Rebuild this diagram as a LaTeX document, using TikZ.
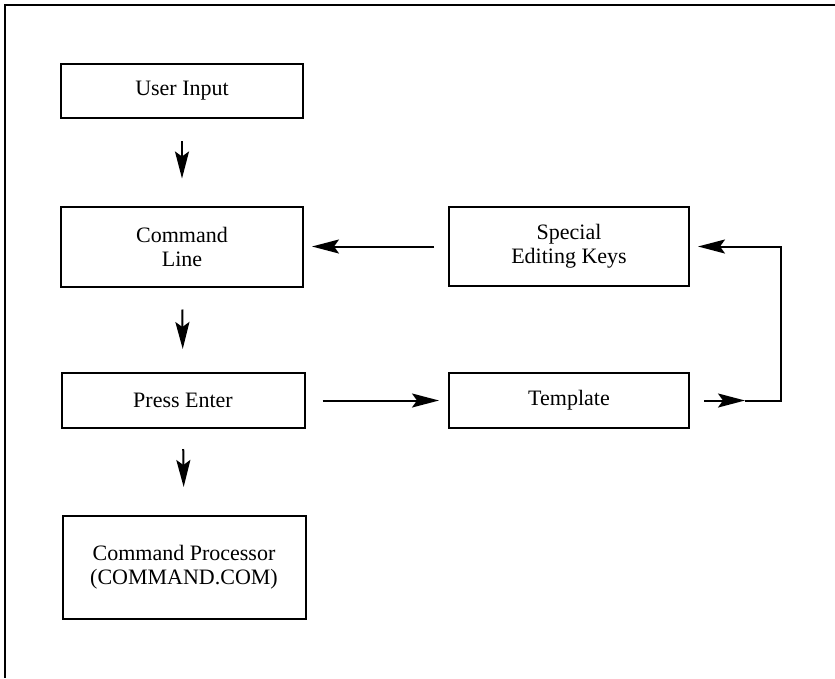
\documentclass[tikz,border=0pt]{standalone}
\usepackage{fontspec}
\setmainfont{Liberation Serif}
\usetikzlibrary{arrows.meta}

\begin{document}
\begin{tikzpicture}[x=1pt,y=-1pt,line width=2pt,
   box/.style={draw,align=center,font=\fontsize{22}{24}\selectfont,inner sep=0pt},
   arr/.style={-{Stealth[length=27pt,width=14pt,inset=5pt]}}]
   \useasboundingbox (0,0) rectangle (835,678);
   \draw (835,5) -- (5,5) -- (5,678);
   % left column
   \node[box,minimum width=242pt,minimum height=54pt] (ui) at (182,91) {User Input};
   \node[box,minimum width=242pt,minimum height=80pt] (cl) at (182,246.5) {Command\\Line};
   \node[box,minimum width=243pt,minimum height=55pt] (pe) at (183,400.5) {Press Enter};
   \node[box,minimum width=243pt,minimum height=103pt] (cp) at (184,567.5) {Command Processor\\(COMMAND.COM)};
   % right column
   \node[box,minimum width=240pt,minimum height=79pt] (sek) at (569,246.5) {Special\\Editing Keys};
   \node[box,minimum width=240pt,minimum height=55pt] (tp) at (569,400.5) {Template};
   \coordinate (mid) at (745,400.5);
   \coordinate (turn) at (781,400.5);
   % arrows
   \draw[arr,shorten <=22pt,shorten >=27pt] (ui.south) -- (cl.north);
   \draw[arr,shorten <=22pt,shorten >=23pt] (cl.south) -- (pe.north);
   \draw[arr,shorten <=20pt,shorten >=28pt] (pe.south) -- (cp.north);
   \draw[arr,shorten <=17pt,shorten >=9pt] (pe.east) -- (tp.west);
   \draw[arr,shorten <=14pt,shorten >=8pt] (sek.west) -- (cl.east);
   \draw[arr,shorten <=14pt] (tp.east) -- (mid);
   \draw[arr,shorten >=8pt] (mid) -- (turn) |- (sek.east);
\end{tikzpicture}
\end{document}
